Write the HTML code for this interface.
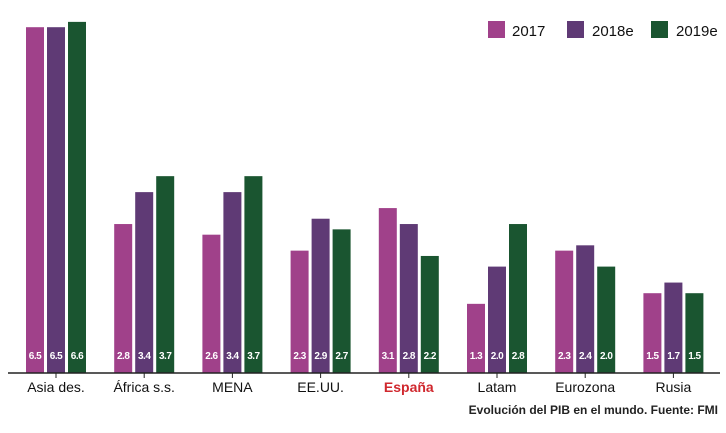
<!DOCTYPE html>
<html><head><meta charset="utf-8"><style>
body{margin:0;background:#fff;font-family:"Liberation Sans",sans-serif}
svg text{font-family:"Liberation Sans",sans-serif}
</style></head><body>
<svg width="726" height="428">
<g id="bars"></g>
<line x1="8" y1="373" x2="720" y2="373" stroke="#222" stroke-width="1.5"/>
<g id="xlabels"></g>
<g>
<rect x="488" y="21" width="17" height="17" fill="#a0418a"/>
<text x="512" y="36" font-size="15" fill="#111">2017</text>
<rect x="567" y="21" width="17" height="17" fill="#5f3a75"/>
<text x="592" y="36" font-size="15" fill="#111">2018e</text>
<rect x="651" y="21" width="17" height="17" fill="#1a5530"/>
<text x="676" y="36" font-size="15" fill="#111">2019e</text>
</g>
<text x="718" y="414" text-anchor="end" font-size="12" font-weight="bold" fill="#222">Evolución del PIB en el mundo. Fuente: FMI</text>
</svg>
<script>
const categories=["Asia des.","África s.s.","MENA","EE.UU.","España","Latam","Eurozona","Rusia"];
const s2017=[6.5,2.8,2.6,2.3,3.1,1.3,2.3,1.5];
const s2018=[6.5,3.4,3.4,2.9,2.8,2.0,2.4,1.7];
const s2019=[6.6,3.7,3.7,2.7,2.2,2.8,2.0,1.5];
const seriesNames=["2017","2018e","2019e"];
const colors=["#a0418a","#5f3a75","#1a5530"];
const NS="http://www.w3.org/2000/svg";
const base=373, ppu=53.2;
function y(v){return base-v*ppu;}
function cx(i){return 56+i*88.2;}
const bars=document.getElementById('bars'), xl=document.getElementById('xlabels');
[s2017,s2018,s2019].forEach((ser,si)=>{
  ser.forEach((v,i)=>{
    const x=cx(i)-30+si*21;
    const r=document.createElementNS(NS,'rect');
    r.setAttribute('x',x);r.setAttribute('y',y(v));r.setAttribute('width',18);r.setAttribute('height',base-y(v));r.setAttribute('fill',colors[si]);
    
    
    bars.appendChild(r);
    const t=document.createElementNS(NS,'text');
    t.setAttribute('x',x+9);t.setAttribute('y',359);t.setAttribute('text-anchor','middle');t.setAttribute('font-size','10');t.setAttribute('font-weight','bold');t.setAttribute('fill','#fff');t.setAttribute('letter-spacing','-0.5');
    t.textContent=v.toFixed(1);
    
    
    bars.appendChild(t);
  });
});
categories.forEach((c,i)=>{
  const l=document.createElementNS(NS,'line');
  l.setAttribute('x1',cx(i));l.setAttribute('x2',cx(i));l.setAttribute('y1',373);l.setAttribute('y2',378);l.setAttribute('stroke','#222');
  
  
  xl.appendChild(l);
  const t=document.createElementNS(NS,'text');
  t.setAttribute('x',cx(i));t.setAttribute('y',392);t.setAttribute('text-anchor','middle');t.setAttribute('font-size','14');
  t.setAttribute('fill',c==="España"?"#d0282e":"#111");
  if(c==="España")t.setAttribute('font-weight','bold');
  t.textContent=c;
  
  
  xl.appendChild(t);
});
</script>
</body></html>
